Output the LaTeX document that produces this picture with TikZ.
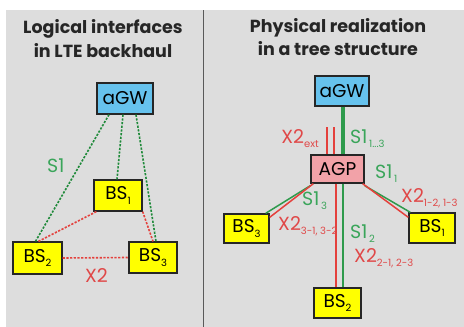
\documentclass[tikz,border=0pt]{standalone}
\usepackage{fontspec}
\setmainfont{Poppins}
\usetikzlibrary{calc}
\definecolor{bgc}{HTML}{DDDDDD}
\definecolor{gwblue}{HTML}{66C2ED}
\definecolor{agppink}{HTML}{F2A2A8}
\definecolor{bsyel}{HTML}{FFFF00}
\definecolor{lgreen}{HTML}{2E9A4C}
\definecolor{dgreen}{HTML}{1F8A3A}
\definecolor{lred}{HTML}{E4403C}
\definecolor{tgreen}{HTML}{3AA55A}
\definecolor{tred}{HTML}{E04848}
\newcommand\lowidx[1]{\raisebox{-0.45ex}{\fontsize{10}{10}\selectfont #1}}
\tikzset{
  box/.style={draw=black!85, line width=1.3pt, inner sep=0pt, font=\fontsize{18.5}{18.5}\selectfont},
  gw/.style={box, fill=gwblue},
  agpbox/.style={box, fill=agppink},
  bsbox/.style={box, fill=bsyel},
  gdash/.style={dgreen, line width=1.6pt, dash pattern=on 2.2pt off 1.5pt},
  rdash/.style={lred, line width=1.6pt, dash pattern=on 2.2pt off 1.5pt},
  gline/.style={lgreen, line width=1.5pt},
  rline/.style={lred, line width=1.5pt},
  glab/.style={text=tgreen, inner sep=0pt, font=\fontsize{19}{19}\selectfont},
  rlab/.style={text=tred, inner sep=0pt, font=\fontsize{19}{19}\selectfont},
  ttl/.style={inner sep=0pt, text=black!85, font=\fontsize{17.5}{17.5}\selectfont\bfseries, anchor=base},
}
\begin{document}
\begin{tikzpicture}[x=1pt,y=-1pt]
\useasboundingbox (0,0) rectangle (464,327);
\fill[white] (0,0) rectangle (464,327);
\fill[bgc] (6,10) rectangle (464,327);
\draw[black!65, line width=1.4pt] (203.5,10) -- (203.5,327);

% titles
\node[ttl] (t1) at (103,33) {Logical interfaces};
\node[ttl] (t2) at (103,57) {in LTE backhaul};
\node[ttl] (t3) at (338,32) {Physical realization};
\node[ttl] (t4) at (338,55) {in a tree structure};

% left panel
\node[gw, minimum width=56pt, minimum height=31pt] (lgw) at (125,98.5) {aGW};
\node[bsbox, minimum width=48pt, minimum height=31pt] (lbs1) at (118,195.5) {BS\lowidx{1}};
\node[bsbox, minimum width=49pt, minimum height=32pt] (lbs2) at (37.5,258) {BS\lowidx{2}};
\node[bsbox, minimum width=48pt, minimum height=31pt] (lbs3) at (153,257.5) {BS\lowidx{3}};

\draw[gdash] ([xshift=-16pt]lgw.south) -- ([xshift=-2pt]lbs2.north);
\draw[gdash] ([xshift=-2pt]lgw.south) -- ([xshift=-1pt]lbs1.north);
\draw[gdash] ([xshift=11pt]lgw.south) -- ([xshift=3pt]lbs3.north);
\draw[rdash] ([xshift=3pt]lbs1.south west) -- ([xshift=1pt]lbs2.north);
\draw[rdash] (lbs1.south east) -- ([xshift=0pt]lbs3.north);
\draw[rdash] (lbs2.east) -- (lbs3.west);

\node[glab, anchor=base west] (ls1) at (47,172) {S1};
\node[rlab, anchor=base west] (lx2) at (85,282) {X2};

% right panel
\node[gw, minimum width=54pt, minimum height=30pt] (rgw) at (342,91) {aGW};
\node[agpbox, minimum width=53pt, minimum height=28pt] (agp) at (337.5,169) {AGP};
\node[bsbox, minimum width=45pt, minimum height=29pt] (rbs3) at (246.5,228.5) {BS\lowidx{3}};
\node[bsbox, minimum width=46pt, minimum height=30pt] (rbs1) at (432,228) {BS\lowidx{1}};
\node[bsbox, minimum width=47pt, minimum height=30pt] (rbs2) at (337.5,303) {BS\lowidx{2}};

\coordinate (xa) at (327,127);
\coordinate (xb) at (334,127);
\draw[lgreen, line width=3.2pt] ([xshift=1pt]rgw.south) -- ([xshift=5.5pt]agp.north);
\draw[rline, line width=1.2pt] (xa) -- (xa |- agp.north);
\draw[rline, line width=1.2pt] (xb) -- (xb |- agp.north);

\draw[rline] ([xshift=-1.5pt]agp.south) -- ([xshift=-1.5pt]rbs2.north);
\draw[gline] ([xshift=5.5pt]agp.south) -- ([xshift=5.5pt]rbs2.north);

\draw[gline] ([yshift=-2pt]agp.south west) -- ([xshift=-4pt]rbs3.north east);
\draw[rline] ([xshift=3pt]agp.south west) -- ([yshift=-4pt]rbs3.north east);

\draw[gline] ([yshift=-2pt]agp.south east) -- ([xshift=2pt]rbs1.north west);
\draw[rline] ([xshift=-2pt]agp.south east) -- ([yshift=-5pt]rbs1.north west);

\node[rlab, anchor=base east] (lxe) at (319,143) {X2\lowidx{ext}};
\node[glab, anchor=base west] (ls13) at (350,143) {S1\lowidx{\,1...3}};
\node[glab, anchor=base west] (ls11) at (375,178) {S1\lowidx{\,1}};
\node[rlab, anchor=base west] (lx11) at (401,202) {X2\lowidx{1-2, 1-3}};
\node[glab, anchor=base west] (ls33) at (302,205) {S1\lowidx{\,3}};
\node[rlab, anchor=base west] (lx33) at (278,230) {X2\lowidx{3-1, 3-2}};
\node[glab, anchor=base west] (ls22) at (350,238) {S1\lowidx{\,2}};
\node[rlab, anchor=base west] (lx22) at (354,262) {X2\lowidx{2-1, 2-3}};
\end{tikzpicture}
\end{document}
